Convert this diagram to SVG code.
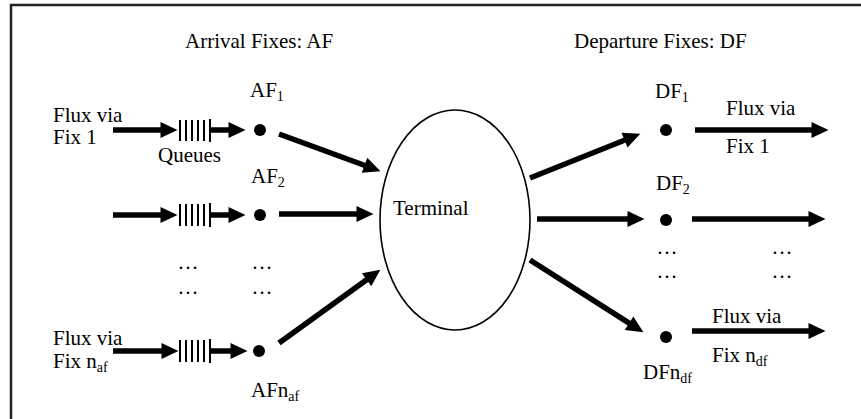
<svg xmlns="http://www.w3.org/2000/svg" width="861" height="419" viewBox="0 0 861 419" font-family="'Liberation Serif', 'Times New Roman', serif">
<style>
text{font-family:'Liberation Serif','Times New Roman',serif;font-size:21px;fill:#000}
.sub{font-size:14px}
.ell{text-anchor:middle}
.shaft{stroke:#000;stroke-width:5.5;fill:none;marker-end:url(#ah)}
.bar{stroke:#000;stroke-width:2}
.frame{stroke:#222;stroke-width:2.5;fill:none}
</style>
<defs>
<marker id="ah" markerUnits="userSpaceOnUse" markerWidth="18" markerHeight="16" refX="0.5" refY="8" orient="auto" viewBox="0 0 17 16">
<path d="M0,0 L17,8 L0,16 z" fill="#000"/>
</marker>
</defs>
<g id="frame">
<line class="frame" x1="10" y1="5" x2="861" y2="5"/>
<line class="frame" x1="11" y1="4" x2="11" y2="419"/>
</g>
<g id="titles">
<text x="185" y="48">Arrival Fixes: AF</text>
<text x="574" y="48">Departure Fixes: DF</text>
</g>
<g id="connectors">
<line class="shaft" x1="113" y1="130" x2="161" y2="130"/>
<line class="shaft" x1="210" y1="130" x2="229" y2="130"/>
<line class="shaft" x1="113" y1="215" x2="161" y2="215"/>
<line class="shaft" x1="210" y1="215" x2="229" y2="215"/>
<line class="shaft" x1="113" y1="351" x2="162" y2="351"/>
<line class="shaft" x1="210" y1="351" x2="231" y2="351"/>
<line class="shaft" x1="279" y1="134" x2="365" y2="165.5"/>
<line class="shaft" x1="279" y1="214" x2="357" y2="214"/>
<line class="shaft" x1="279" y1="343" x2="367" y2="279.4"/>
<line class="shaft" x1="530" y1="178" x2="625" y2="140"/>
<line class="shaft" x1="537" y1="219" x2="628" y2="219"/>
<line class="shaft" x1="530" y1="260" x2="629.5" y2="323.4"/>
<line class="shaft" x1="695" y1="130" x2="812" y2="130"/>
<line class="shaft" x1="692" y1="219" x2="809" y2="219"/>
<line class="shaft" x1="692" y1="331" x2="809" y2="331"/>
</g>
<g id="queue1">
<line class="bar" x1="180" y1="120" x2="180" y2="141"/>
<line class="bar" x1="186" y1="120" x2="186" y2="141"/>
<line class="bar" x1="192" y1="120" x2="192" y2="141"/>
<line class="bar" x1="198" y1="120" x2="198" y2="141"/>
<line class="bar" x1="204" y1="120" x2="204" y2="141"/>
<line class="bar" x1="210" y1="119" x2="210" y2="142"/>
</g>
<g id="queue2">
<line class="bar" x1="180" y1="204" x2="180" y2="226"/>
<line class="bar" x1="186" y1="204" x2="186" y2="226"/>
<line class="bar" x1="192" y1="204" x2="192" y2="226"/>
<line class="bar" x1="198" y1="204" x2="198" y2="226"/>
<line class="bar" x1="204" y1="204" x2="204" y2="226"/>
<line class="bar" x1="210" y1="203" x2="210" y2="227"/>
</g>
<g id="queuen">
<line class="bar" x1="180" y1="340" x2="180" y2="362"/>
<line class="bar" x1="186" y1="340" x2="186" y2="362"/>
<line class="bar" x1="192" y1="340" x2="192" y2="362"/>
<line class="bar" x1="198" y1="340" x2="198" y2="362"/>
<line class="bar" x1="204" y1="340" x2="204" y2="362"/>
<line class="bar" x1="210" y1="339" x2="210" y2="363"/>
</g>
<g id="flux-in-1">
<text x="53" y="122">Flux via</text>
<text x="53" y="144">Fix 1</text>
</g>
<text id="queues-label" x="158" y="162">Queues</text>
<g id="flux-in-n">
<text x="53" y="345">Flux via</text>
<text x="53" y="368">Fix n<tspan class="sub" dy="4">af</tspan></text>
</g>
<g id="AF1">
<circle cx="260" cy="130" r="6"/>
<text x="250" y="97">AF<tspan class="sub" dy="4">1</tspan></text>
</g>
<g id="AF2">
<circle cx="260" cy="215" r="6"/>
<text x="251" y="183">AF<tspan class="sub" dy="4">2</tspan></text>
</g>
<g id="AFn">
<circle cx="259" cy="351" r="6"/>
<text x="251" y="397">AFn<tspan class="sub" dy="4">af</tspan></text>
</g>
<g id="left-dots">
<text class="ell" x="188" y="269">…</text>
<text class="ell" x="188" y="294">…</text>
<text class="ell" x="262" y="269">…</text>
<text class="ell" x="262" y="294">…</text>
</g>
<g id="terminal">
<ellipse cx="455" cy="220" rx="75" ry="110" fill="none" stroke="#000" stroke-width="1.6"/>
<text x="393" y="215">Terminal</text>
</g>
<g id="DF1">
<circle cx="666" cy="130" r="6"/>
<text x="655" y="98">DF<tspan class="sub" dy="4">1</tspan></text>
</g>
<g id="DF2">
<circle cx="666" cy="220" r="6"/>
<text x="656" y="190">DF<tspan class="sub" dy="4">2</tspan></text>
</g>
<g id="DFn">
<circle cx="666" cy="337" r="6"/>
<text x="643" y="379">DFn<tspan class="sub" dy="4">df</tspan></text>
</g>
<g id="flux-out-1">
<text x="726" y="115">Flux via</text>
<text x="726" y="153">Fix 1</text>
</g>
<g id="flux-out-n">
<text x="712" y="323">Flux via</text>
<text x="712" y="362">Fix n<tspan class="sub" dy="4">df</tspan></text>
</g>
<g id="right-dots">
<text class="ell" x="667" y="254">…</text>
<text class="ell" x="667" y="278">…</text>
<text class="ell" x="782" y="254">…</text>
<text class="ell" x="782" y="278">…</text>
</g>
</svg>
